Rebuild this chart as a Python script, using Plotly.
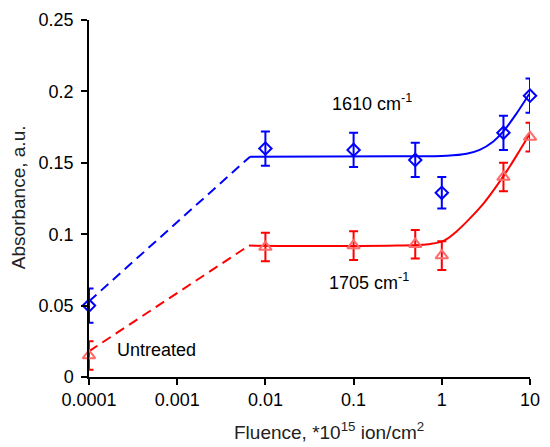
import plotly.graph_objects as go

# measured points
fluence = [0.0001, 0.01, 0.1, 0.5, 1, 5, 10]
abs_1610 = [0.050, 0.160, 0.159, 0.152, 0.129, 0.171, 0.197]
err_1610 = [0.012, 0.012, 0.012, 0.012, 0.011, 0.012, 0.012]
abs_1705 = [0.015, 0.091, 0.092, 0.093, 0.085, 0.140, 0.168]
err_1705 = [0.010, 0.010, 0.010, 0.010, 0.010, 0.010, 0.010]

# guide lines
dash_x_1610 = [0.0001, 0.0067]
dash_y_1610 = [0.053, 0.1543]
dash_x_1705 = [0.0001, 0.0065]
dash_y_1705 = [0.018, 0.092]

fit_x_1610 = [0.0067, 0.31, 1.14, 1.91, 2.69, 3.81, 4.93, 6.96, 9.8]
fit_y_1610 = [0.1543, 0.1546, 0.155, 0.1564, 0.1591, 0.1648, 0.1716, 0.1841, 0.1982]
fit_x_1705 = [0.0065, 0.31, 0.746, 1.06, 1.49, 2.11, 2.98, 4.21, 5.94, 7.7, 10]
fit_y_1705 = [0.092, 0.092, 0.0932, 0.0955, 0.1023, 0.1114, 0.1216, 0.134, 0.1477, 0.159, 0.1705]

xtick_vals = [0.0001, 0.001, 0.01, 0.1, 1, 10]
xtick_text = ["0.0001", "0.001", "0.01", "0.1", "1", "10"]
ytick_vals = [0, 0.05, 0.1, 0.15, 0.2, 0.25]
ytick_text = ["0", "0.05", "0.1", "0.15", "0.2", "0.25"]

BLUE = "#0000ff"
RED = "#ff0000"
FONT = "Liberation Sans, Arial, sans-serif"

fig = go.Figure()

fig.add_trace(go.Scatter(x=dash_x_1610, y=dash_y_1610, mode="lines",
                         line=dict(color=BLUE, width=2, dash="10px,6px"),
                         cliponaxis=False, showlegend=False))
fig.add_trace(go.Scatter(x=dash_x_1705, y=dash_y_1705, mode="lines",
                         line=dict(color=RED, width=2, dash="10px,6px"),
                         cliponaxis=False, showlegend=False))
fig.add_trace(go.Scatter(x=fit_x_1610, y=fit_y_1610, mode="lines",
                         line=dict(color=BLUE, width=2, shape="spline"),
                         cliponaxis=False, showlegend=False))
fig.add_trace(go.Scatter(x=fit_x_1705, y=fit_y_1705, mode="lines",
                         line=dict(color=RED, width=2, shape="spline"),
                         cliponaxis=False, showlegend=False))

fig.add_trace(go.Scatter(
    x=fluence, y=abs_1610, mode="markers",
    marker=dict(symbol="diamond-open", size=9.5, color=BLUE, line=dict(width=2)),
    error_y=dict(type="data", array=err_1610, color=BLUE, thickness=2, width=4.5),
    cliponaxis=False, showlegend=False))
fig.add_trace(go.Scatter(
    x=fluence, y=abs_1705, mode="markers",
    marker=dict(symbol="triangle-up-open", size=11, color="#ff6a6a", line=dict(width=2)),
    error_y=dict(type="data", array=err_1705, color=RED, thickness=2, width=4.5),
    cliponaxis=False, showlegend=False))

fig.add_annotation(x=-0.79, y=0.192, xref="x", yref="y", showarrow=False,
                   text="1610 cm<sup>-1</sup>", font=dict(size=18, color="black", family=FONT))
fig.add_annotation(x=-0.83, y=0.067, xref="x", yref="y", showarrow=False,
                   text="1705 cm<sup>-1</sup>", font=dict(size=18, color="black", family=FONT))
fig.add_annotation(x=-3.24, y=0.019, xref="x", yref="y", showarrow=False,
                   text="Untreated", font=dict(size=18, color="black", family=FONT))

# axis titles
fig.add_annotation(x=0.545, y=-0.15, xref="paper", yref="paper", showarrow=False,
                   xanchor="center", yanchor="middle",
                   text="Fluence, *10<sup>15</sup> ion/cm<sup>2</sup>",
                   font=dict(size=19, color="#222", family=FONT))
fig.add_annotation(x=-0.16, y=0.505, xref="paper", yref="paper", showarrow=False,
                   xanchor="center", yanchor="middle",
                   textangle=-90, text="Absorbance, a.u.",
                   font=dict(size=19, color="#222", family=FONT))

fig.update_layout(
    width=550, height=447,
    margin=dict(l=89, r=16, t=10, b=70),
    paper_bgcolor="white", plot_bgcolor="white",
    font=dict(family=FONT, size=18, color="black"),
    xaxis=dict(type="log", range=[-4, 1], tickvals=xtick_vals, ticktext=xtick_text,
               showline=True, linecolor="black", linewidth=1.5, ticks="outside",
               ticklen=6, tickwidth=1.5, tickcolor="black", showgrid=False, zeroline=False),
    yaxis=dict(range=[0, 0.25], tickvals=ytick_vals, ticktext=ytick_text,
               showline=True, linecolor="black", linewidth=1.5, ticks="outside",
               ticklen=6, tickwidth=1.5, tickcolor="black", showgrid=False, zeroline=False,
               ticklabelstandoff=4),
)

fig.write_html("out.html", config={"displayModeBar": False},
               post_script="document.body.style.margin='0px';")
